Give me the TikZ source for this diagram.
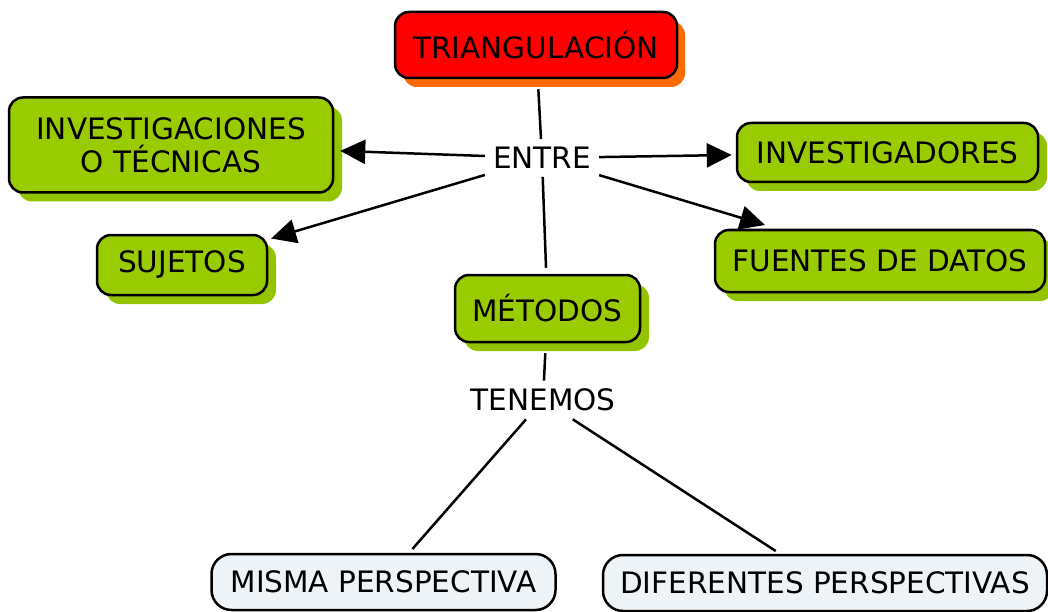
\documentclass[tikz,border=0pt]{standalone}
\usepackage{fontspec}
\setmainfont{DejaVu Sans}
\usetikzlibrary{arrows.meta,shadows}
\definecolor{redfill}{HTML}{FF0000}
\definecolor{redshadow}{HTML}{FF6A00}
\definecolor{greenfill}{HTML}{99CC00}
\definecolor{greenshadow}{HTML}{92C400}
\definecolor{paleblue}{HTML}{EEF3F7}
\tikzset{
  box/.style={draw=black, line width=2.5pt, rounded corners=14pt, inner sep=0pt,
    align=center, font=\fontsize{29.5}{33}\selectfont},
  greenbox/.style={box, fill=greenfill,
    drop shadow={shadow xshift=9pt, shadow yshift=-9pt, opacity=1, fill=greenshadow, draw=none}},
  redbox/.style={box, fill=redfill,
    drop shadow={shadow xshift=8pt, shadow yshift=-9pt, opacity=1, fill=redshadow, draw=none}},
  palebox/.style={box, fill=paleblue, rounded corners=20pt},
  label/.style={inner sep=8pt, font=\fontsize{29.5}{33}\selectfont},
  conn/.style={draw=black, line width=2.5pt},
  arr/.style={conn, -{Triangle[length=25pt,width=24pt]}}
}
\begin{document}
\begin{tikzpicture}[x=1pt,y=-1pt]
\useasboundingbox (0,0) rectangle (1048,612);
\node[redbox, minimum width=282pt, minimum height=66pt] (tri) at (536,45) {TRIANGULACIÓN};
\node[greenbox, minimum width=324pt, minimum height=95pt] (invtec) at (171,145) {INVESTIGACIONES\\O TÉCNICAS};
\node[greenbox, minimum width=170pt, minimum height=60pt] (suj) at (182,265) {SUJETOS};
\node[greenbox, minimum width=301pt, minimum height=59pt] (invg) at (887.5,152.5) {INVESTIGADORES};
\node[greenbox, minimum width=330pt, minimum height=62pt] (fue) at (880,261) {FUENTES DE DATOS};
\node[greenbox, minimum width=185pt, minimum height=67pt] (met) at (547.5,308.5) {MÉTODOS};
\node[label] (entre) at (542,158) {ENTRE};
\node[label] (ten) at (543,400) {TENEMOS};
\node[palebox, minimum width=344pt, minimum height=56pt] (misma) at (383.5,582) {MISMA PERSPECTIVA};
\node[palebox, minimum width=444pt, minimum height=56pt] (dif) at (825,583) {DIFERENTES PERSPECTIVAS};
\coordinate (tipF) at (765,225);
\draw[conn, shorten <=10pt] (tri) -- (entre);
\draw[conn, shorten >=6pt] (entre) -- (met);
\draw[arr, shorten >=6pt] (entre) -- (invtec);
\draw[arr, shorten >=3pt] (entre) -- (suj);
\draw[arr, shorten >=4pt] (entre) -- (invg);
\draw[arr] (entre) -- (tipF);
\draw[conn, shorten <=10pt] (met) -- (ten);
\draw[conn, shorten >=5pt] (ten) -- (misma);
\draw[conn, shorten >=5pt] (ten) -- (dif);
\end{tikzpicture}
\end{document}
